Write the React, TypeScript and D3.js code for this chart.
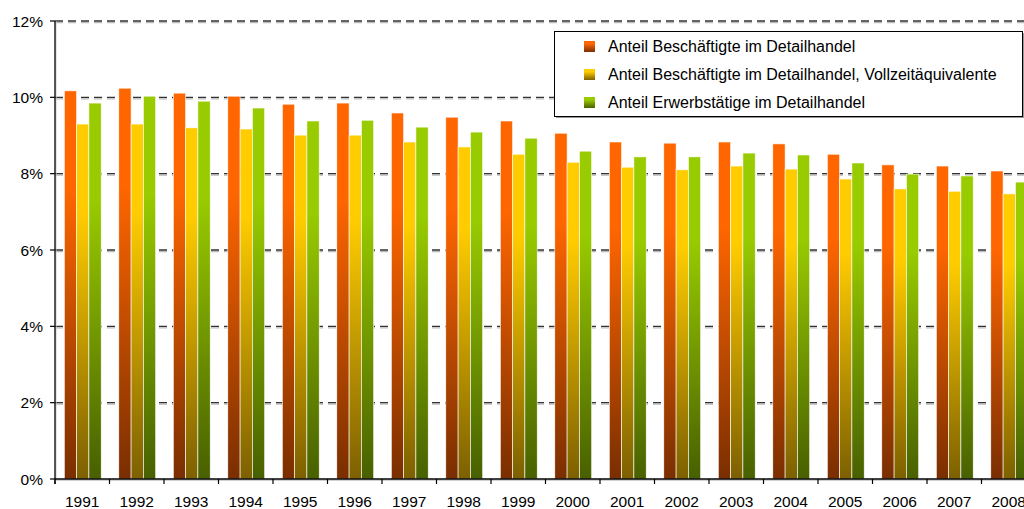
import React from "react";
import * as d3 from "d3";

const years = ["1991","1992","1993","1994","1995","1996","1997","1998","1999","2000","2001","2002","2003","2004","2005","2006","2007","2008"];
const beschaeftigte = [10.17,10.24,10.11,10.03,9.82,9.85,9.59,9.48,9.38,9.06,8.83,8.80,8.83,8.78,8.51,8.23,8.20,8.07];
const vollzeit = [9.30,9.30,9.20,9.17,9.01,9.01,8.83,8.70,8.51,8.30,8.17,8.10,8.20,8.12,7.86,7.60,7.54,7.47];
const erwerbstaetige = [9.85,10.03,9.90,9.72,9.38,9.40,9.22,9.09,8.93,8.59,8.44,8.44,8.54,8.49,8.28,7.99,7.94,7.78];
const yTicks = [0, 2, 4, 6, 8, 10, 12];
const seriesNames = [
  "Anteil Beschäftigte im Detailhandel",
  "Anteil Beschäftigte im Detailhandel, Vollzeitäquivalente",
  "Anteil Erwerbstätige im Detailhandel",
];
const seriesColors = [
  ["#FF6600", "#7A2E00"],
  ["#FFCC00", "#7D6000"],
  ["#99CC00", "#486000"],
];

export default function App() {
  const W = 1024, H = 509;
  const left = 55, top = 21, bottom = 479;
  const bandW = 54.5;
  const x = d3.scaleBand<string>().domain(years).range([left, left + bandW * years.length]).padding(0);
  const y = d3.scaleLinear().domain([0, 12]).range([bottom, top]);
  const series = [beschaeftigte, vollzeit, erwerbstaetige];
  const barW = 12.3;
  const off = 9.3;
  const font = "'Liberation Sans', Arial, sans-serif";

  return (
    <svg width={W} height={H} style={{ position: "absolute", left: 0, top: 0, background: "#fff" }} fontFamily={font}>
      <defs>
        {seriesColors.map((c, i) => (
          <linearGradient key={i} id={`g${i}`} x1="0" y1="0" x2="0" y2="1">
            <stop offset="0" stopColor={c[0]} />
            <stop offset="0.25" stopColor={c[0]} />
            <stop offset="1" stopColor={c[1]} />
          </linearGradient>
        ))}
      </defs>
      {/* gridlines */}
      {yTicks.filter(t => t > 0).map(t => (
        <g key={t}>
          <line x1={left} x2={W} y1={y(t) + 1.5} y2={y(t) + 1.5} stroke="#bbb" strokeWidth={1.3} strokeDasharray="8,5" />
          <line x1={left} x2={W} y1={y(t)} y2={y(t)} stroke="#333" strokeWidth={1.3} strokeDasharray="8,5" />
        </g>
      ))}
      {/* bars */}
      {series.map((vals, si) => (
        <g key={si}>
          {years.map((yr, i) => (
            <rect key={yr} x={(x(yr) as number) + off + si * barW} y={y(vals[i])} width={barW} height={bottom - y(vals[i])}
              fill={`url(#g${si})`} stroke="#fff" strokeWidth={0.6} />
          ))}
        </g>
      ))}
      {/* y axis */}
      <line x1={left + 1} x2={left + 1} y1={top} y2={bottom} stroke="#ccc" strokeWidth={1} />
      <line x1={left} x2={left} y1={top} y2={bottom + 5} stroke="#000" strokeWidth={1.3} />
      {yTicks.map(t => (
        <g key={t}>
          <line x1={left - 5} x2={left} y1={y(t)} y2={y(t)} stroke="#000" strokeWidth={1.2} />
          <text x={43} y={y(t) + 5.5} textAnchor="end" fontSize={15.5} fill="#000">{t}%</text>
        </g>
      ))}
      {/* x axis */}
      <line x1={left} x2={W} y1={bottom + 1.2} y2={bottom + 1.2} stroke="#bbb" strokeWidth={1} />
      <line x1={left} x2={W} y1={bottom} y2={bottom} stroke="#000" strokeWidth={1.3} />
      {years.map(yr => (
        <g key={yr}>
          <line x1={x(yr) as number} x2={x(yr) as number} y1={bottom} y2={bottom + 5} stroke="#000" strokeWidth={1.2} />
          <text x={(x(yr) as number) + bandW / 2} y={507} textAnchor="middle" fontSize={15.5} fill="#000">{yr}</text>
        </g>
      ))}
      {/* legend */}
      <rect x={556} y={33} width={468} height={85} fill="#999" />
      <rect x={554.5} y={31.5} width={468} height={85} fill="#fff" stroke="#000" strokeWidth={1} />
      {seriesNames.map((n, i) => (
        <g key={n}>
          <rect x={584} y={41 + i * 28} width={11} height={11} fill={`url(#g${i})`} />
          <text x={608} y={51.5 + i * 28} fontSize={16} fill="#000">{n}</text>
        </g>
      ))}
    </svg>
  );
}
